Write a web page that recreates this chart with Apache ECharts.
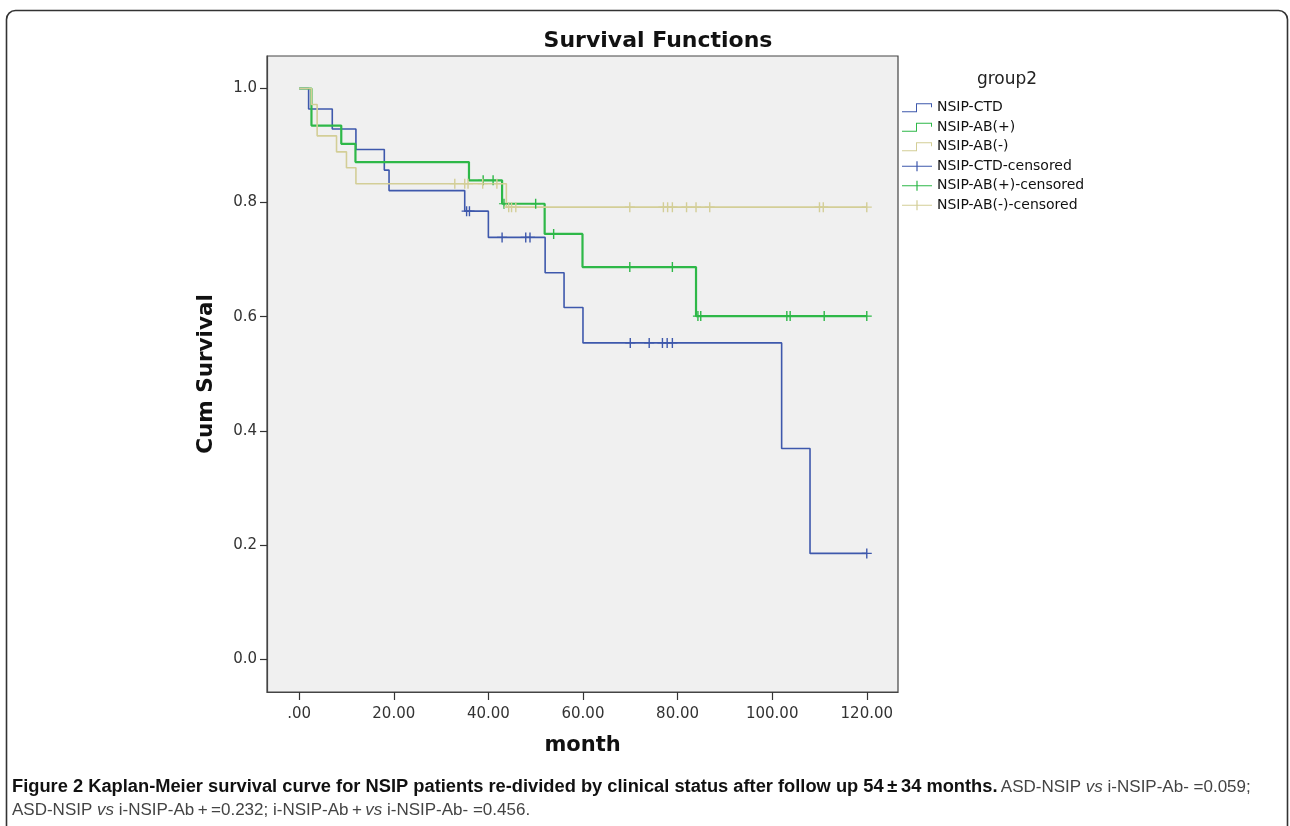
<!DOCTYPE html>
<html>
<head>
<meta charset="utf-8">
<script src="https://cdn.jsdelivr.net/npm/echarts@6/dist/echarts.min.js"></script>
<style>
  html, body { margin: 0; padding: 0; background: #fff; }
  #chart { width: 1290px; height: 826px; }
</style>
</head>
<body>
<div id="chart"></div>
<script>
// Kaplan-Meier steps: event times (month) and survival after the event
var ctdTime = [0, 2, 7, 12, 18, 19, 35, 40, 52, 56, 60, 102, 108, 120]
var ctdSurv = [1, 0.964, 0.929, 0.893, 0.857, 0.821, 0.785, 0.739, 0.677, 0.616, 0.554, 0.369, 0.185, 0.185]
var ctdCensored = [35.4, 36.0, 42.9, 47.9, 48.8, 70, 74, 76.8, 77.8, 78.9, 120]

var abPosTime = [0, 2.6, 8.9, 11.9, 35.9, 42.9, 51.9, 59.9, 83.9, 120]
var abPosSurv = [1, 0.935, 0.903, 0.871, 0.839, 0.798, 0.745, 0.687, 0.601, 0.601]
var abPosCensored = [38.9, 41.0, 43.3, 50.0, 53.8, 69.9, 78.9, 84.3, 84.9, 103.1, 103.8, 111, 120]

var abNegTime = [0, 2.6, 3.8, 7.9, 10.0, 12.0, 43.8, 120]
var abNegSurv = [1, 0.972, 0.917, 0.889, 0.861, 0.833, 0.792, 0.792]
var abNegCensored = [32.9, 35.0, 35.7, 38.8, 41.8, 44.3, 44.9, 45.8, 69.9, 77.0, 77.9, 78.9, 81.9, 83.9, 86.8, 110.0, 110.8, 120]

var xTicks = [0, 20, 40, 60, 80, 100, 120]
var yTicks = [0, 0.2, 0.4, 0.6, 0.8, 1.0]

var groupNames = ['NSIP-CTD', 'NSIP-AB(+)', 'NSIP-AB(-)']
var colors = ['#3E58AC', '#2EB848', '#D3CE97']

var stepIcon = 'path://M0,9L14,9L14,1L30,1L30,5L29,5L29,2L15,2L15,10L0,10Z'
var crossIcon = 'path://M0,4.4L30,4.4L30,5.6L0,5.6Z M14.4,0L15.6,0L15.6,10L14.4,10Z'
var censorSymbol = 'path://M4.3,0L5.7,0L5.7,10L4.3,10Z M0,4.4L10,4.4L10,5.6L0,5.6Z'

var captionFont = "'Liberation Sans Narrow', 'Liberation Sans', sans-serif"

function pairs(times, surv) {
  return times.map(function(t, i) { return [t, surv[i]] })
}

// survival level of a step curve at month t
function levelAt(times, surv, t) {
  var v = surv[0]
  for (var i = 0; i < times.length; i++) {
    if (times[i] <= t) v = surv[i]
  }
  return v
}

function censorPoints(times, surv, cens) {
  return cens.map(function(t) { return [t, levelAt(times, surv, t)] })
}

var curves = [
  [ctdTime, ctdSurv, ctdCensored],
  [abPosTime, abPosSurv, abPosCensored],
  [abNegTime, abNegSurv, abNegCensored]
]
var widths = [1.6, 2.2, 1.6]

var series = []
curves.forEach(function(c, i) {
  series.push({
    name: groupNames[i],
    type: 'line',
    step: 'end',
    showSymbol: false,
    data: pairs(c[0], c[1]),
    lineStyle: { color: colors[i], width: widths[i] },
    itemStyle: { color: colors[i] },
    z: 2 + i
  })
})
curves.forEach(function(c, i) {
  series.push({
    name: groupNames[i] + '-censored',
    type: 'scatter',
    symbol: censorSymbol,
    symbolSize: [10, 10],
    data: censorPoints(c[0], c[1], c[2]),
    itemStyle: { color: colors[i], opacity: 1 },
    z: 6 + i
  })
})

var chart = echarts.init(document.getElementById('chart'))
chart.setOption({
  animation: false,
  backgroundColor: '#fff',
  textStyle: { fontFamily: 'DejaVu Sans' },
  title: [{
    text: 'Survival Functions',
    left: 653,
    top: 25,
    textAlign: 'center',
    textStyle: { fontFamily: 'DejaVu Sans', fontWeight: 'bold', fontSize: 22, color: '#111' }
  }, {
    text: 'group2',
    left: 1002,
    top: 66,
    textAlign: 'center',
    textStyle: { fontFamily: 'DejaVu Sans', fontWeight: 'normal', fontSize: 17, color: '#222' }
  }],
  legend: {
    orient: 'vertical',
    left: 902,
    top: 98,
    itemWidth: 30,
    itemHeight: 10,
    itemGap: 0,
    padding: 0,
    selectedMode: false,
    textStyle: { fontFamily: 'DejaVu Sans', fontSize: 14, color: '#111', lineHeight: 19.5 },
    data: [
      { name: groupNames[0], icon: stepIcon },
      { name: groupNames[1], icon: stepIcon },
      { name: groupNames[2], icon: stepIcon },
      { name: groupNames[0] + '-censored', icon: crossIcon },
      { name: groupNames[1] + '-censored', icon: crossIcon },
      { name: groupNames[2] + '-censored', icon: crossIcon }
    ]
  },
  grid: {
    left: 267,
    top: 56,
    width: 631,
    height: 636,
    show: true,
    backgroundColor: '#F0F0F0',
    borderColor: '#444',
    borderWidth: 1.2
  },
  xAxis: {
    type: 'value',
    min: -6.8,
    max: 126.6,
    name: 'month',
    nameLocation: 'middle',
    nameGap: 43,
    nameTextStyle: { fontFamily: 'DejaVu Sans', fontWeight: 'bold', fontSize: 21, color: '#111' },
    axisLine: { show: true, onZero: false, lineStyle: { color: '#444', width: 1.2 } },
    axisTick: { show: true, customValues: xTicks, length: 8, lineStyle: { color: '#333', width: 1.2 } },
    axisLabel: {
      customValues: xTicks,
      margin: 15,
      fontSize: 15,
      color: '#333',
      formatter: function(v) {
        var s = v.toFixed(2)
        return v === 0 ? s.slice(1) : s
      }
    },
    splitLine: { show: false }
  },
  yAxis: {
    type: 'value',
    min: -0.058,
    max: 1.057,
    name: 'Cum Survival',
    nameLocation: 'middle',
    nameRotate: 90,
    nameGap: 50,
    nameTextStyle: { fontFamily: 'DejaVu Sans', fontWeight: 'bold', fontSize: 21.5, color: '#111' },
    axisLine: { show: true, onZero: false, lineStyle: { color: '#444', width: 1.2 } },
    axisTick: { show: true, customValues: yTicks, length: 7, lineStyle: { color: '#333', width: 1.2 } },
    axisLabel: {
      customValues: yTicks,
      margin: 10,
      fontSize: 15,
      color: '#333',
      formatter: function(v) { return v.toFixed(1) }
    },
    splitLine: { show: false }
  },
  graphic: [{
    type: 'rect',
    shape: { x: 6.5, y: 10.5, width: 1281, height: 840, r: 9 },
    style: { fill: 'none', stroke: '#333', lineWidth: 1.6 },
    silent: true
  }, {
    type: 'text',
    left: 12,
    top: 778,
    style: {
      text: '{b|Figure 2 Kaplan-Meier survival curve for NSIP patients re-divided by clinical status after follow up 54\u2009\u00b1\u200934 months.} {r|ASD-NSIP }{i|vs}{r| i-NSIP-Ab- =0.059;}',
      rich: {
        b: { fontFamily: captionFont, fontWeight: 'bold', fontSize: 18.3, fill: '#111' },
        r: { fontFamily: captionFont, fontSize: 17, fill: '#444' },
        i: { fontFamily: captionFont, fontStyle: 'italic', fontSize: 17, fill: '#444' }
      }
    }
  }, {
    type: 'text',
    left: 12,
    top: 802,
    style: {
      text: '{r|ASD-NSIP }{i|vs}{r| i-NSIP-Ab\u2009+\u2009=0.232; i-NSIP-Ab\u2009+\u2009}{i|vs}{r| i-NSIP-Ab- =0.456.}',
      rich: {
        r: { fontFamily: captionFont, fontSize: 17, fill: '#444' },
        i: { fontFamily: captionFont, fontStyle: 'italic', fontSize: 17, fill: '#444' }
      }
    }
  }],
  series: series
})
</script>
</body>
</html>
